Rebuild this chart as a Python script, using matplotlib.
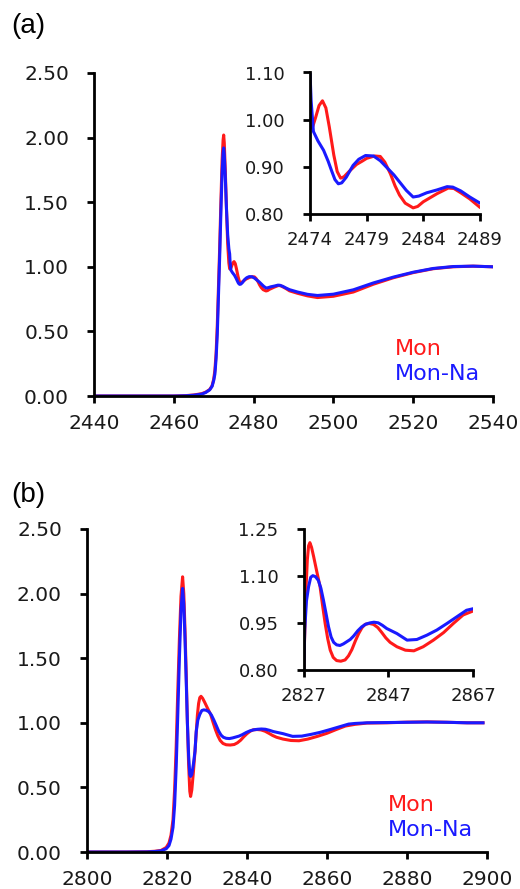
import matplotlib
matplotlib.use("Agg")
import matplotlib.pyplot as plt
from matplotlib.ticker import FormatStrFormatter

# panel (a)
e_a_mon = [2440, 2450, 2460, 2463, 2465, 2467, 2468, 2469, 2469.6, 2470.0, 2470.3,
           2470.6, 2470.9, 2471.2, 2471.5, 2471.8, 2472.1, 2472.35, 2472.5, 2472.65,
           2472.9, 2473.2, 2473.5, 2473.8, 2474.0, 2474.2, 2474.5, 2474.8, 2475.1,
           2475.4, 2475.7, 2476.1, 2476.4, 2476.7, 2477.0, 2477.4, 2478.1, 2478.6,
           2479.0, 2479.7, 2480.2, 2480.6, 2481.1, 2481.5, 2481.9, 2482.4, 2483.1,
           2483.5, 2484.0, 2485.2, 2486.2, 2486.7, 2487.3, 2488.1, 2489.0, 2491,
           2493.5, 2496, 2500, 2505, 2510, 2515, 2520, 2525, 2530, 2535, 2540]
mu_a_mon = [0.0, 0.0, 0.0, 0.003, 0.008, 0.018, 0.03, 0.05, 0.08, 0.13, 0.2,
            0.33, 0.55, 0.85, 1.15, 1.5, 1.82, 1.98, 2.02, 1.96,
            1.75, 1.45, 1.18, 1.03, 0.985, 0.982, 1.005, 1.03, 1.04,
            1.025, 0.985, 0.925, 0.89, 0.876, 0.879, 0.889, 0.905, 0.912,
            0.918, 0.923, 0.922, 0.91, 0.885, 0.86, 0.84, 0.823, 0.813,
            0.816, 0.826, 0.843, 0.855, 0.854, 0.845, 0.832, 0.814, 0.795,
            0.775, 0.762, 0.772, 0.805, 0.865, 0.915, 0.955, 0.985, 1.0, 1.005, 1.0]

e_a_na = [2440, 2450, 2460, 2463, 2465, 2467, 2468, 2469, 2469.6, 2470.0, 2470.3,
          2470.6, 2470.9, 2471.2, 2471.5, 2471.8, 2472.1, 2472.35, 2472.5, 2472.65,
          2472.9, 2473.2, 2473.5, 2473.8, 2474.0, 2474.1, 2474.3, 2474.7, 2475.2,
          2475.6, 2475.9, 2476.2, 2476.5, 2476.8, 2477.2, 2477.8, 2478.3, 2478.9,
          2479.6, 2480.2, 2480.8, 2481.4, 2481.9, 2482.5, 2483.1, 2483.6, 2484.3,
          2485.2, 2486.1, 2486.6, 2487.3, 2488.1, 2489.0, 2491, 2493.5, 2496,
          2500, 2505, 2510, 2515, 2520, 2525, 2530, 2535, 2540]
mu_a_na = [0.0, 0.0, 0.0, 0.002, 0.006, 0.015, 0.027, 0.048, 0.075, 0.12, 0.17,
           0.29, 0.48, 0.78, 1.08, 1.42, 1.72, 1.88, 1.92, 1.87,
           1.7, 1.45, 1.25, 1.14, 1.10, 1.04, 0.975, 0.955, 0.935,
           0.912, 0.892, 0.873, 0.864, 0.866, 0.878, 0.903, 0.916, 0.924,
           0.923, 0.913, 0.898, 0.883, 0.868, 0.85, 0.836, 0.838, 0.845,
           0.851, 0.858, 0.857, 0.849, 0.836, 0.823, 0.805, 0.787, 0.778,
           0.788, 0.822, 0.875, 0.92, 0.958, 0.987, 1.002, 1.005, 1.0]

# panel (b)
e_b_mon = [2800, 2810, 2815, 2817, 2818.5, 2819.8, 2820.5, 2821.0, 2821.5, 2821.9,
           2822.3, 2822.7, 2823.1, 2823.5, 2823.9, 2824.2, 2824.5, 2824.8, 2825.1,
           2825.4, 2825.7, 2825.9, 2826.2, 2826.6, 2827.0, 2827.3, 2827.6, 2827.9,
           2828.2, 2828.5, 2828.9, 2829.4, 2830.1, 2830.9, 2831.5, 2832.1, 2832.7,
           2833.3, 2834.0, 2834.8, 2835.8, 2836.8, 2837.6, 2838.4, 2839.2, 2840.0,
           2840.8, 2841.5, 2842.5, 2843.5, 2844.5, 2845.4, 2846.4, 2847.4, 2849.0,
           2851.0, 2853.0, 2855.2, 2857.6, 2860.0, 2862.3, 2864.6, 2867.0, 2870,
           2875, 2880, 2885, 2890, 2895, 2899]
mu_b_mon = [0.0, 0.0, 0.002, 0.006, 0.012, 0.035, 0.07, 0.13, 0.25, 0.48,
            0.82, 1.25, 1.65, 1.98, 2.13, 2.0, 1.72, 1.38, 1.0,
            0.68, 0.47, 0.43, 0.48, 0.62, 0.78, 0.92, 1.06, 1.15,
            1.195, 1.205, 1.19, 1.16, 1.115, 1.065, 1.005, 0.948, 0.9,
            0.863, 0.84, 0.83, 0.828, 0.832, 0.845, 0.865, 0.892, 0.916,
            0.935, 0.945, 0.948, 0.945, 0.935, 0.92, 0.902, 0.888, 0.874,
            0.863, 0.861, 0.874, 0.895, 0.919, 0.948, 0.975, 0.988, 0.998,
            1.0, 1.005, 1.007, 1.004, 1.0, 1.0]

e_b_na = [2800, 2810, 2815, 2817, 2818.5, 2819.8, 2820.5, 2821.0, 2821.5, 2821.9,
          2822.3, 2822.7, 2823.1, 2823.5, 2823.9, 2824.2, 2824.5, 2824.8, 2825.1,
          2825.4, 2825.7, 2825.9, 2826.2, 2826.6, 2827.0, 2827.3, 2827.7, 2828.2,
          2828.7, 2829.2, 2829.8, 2830.5, 2831.1, 2831.7, 2832.3, 2832.9, 2833.5,
          2834.1, 2834.8, 2835.6, 2836.4, 2837.2, 2838.0, 2838.8, 2839.8, 2840.7,
          2841.7, 2842.7, 2843.6, 2844.6, 2845.6, 2846.6, 2849.0, 2851.4, 2853.7,
          2856.1, 2858.4, 2860.8, 2863.1, 2865.4, 2867.0, 2870, 2875, 2880,
          2885, 2890, 2895, 2899]
mu_b_na = [0.0, 0.0, 0.001, 0.004, 0.009, 0.025, 0.05, 0.1, 0.19, 0.36,
           0.66, 1.07, 1.5, 1.87, 2.04, 1.92, 1.65, 1.33, 1.0,
           0.75, 0.6, 0.585, 0.6, 0.68, 0.78, 0.93, 1.02, 1.065,
           1.095, 1.10, 1.097, 1.085, 1.06, 1.022, 0.98, 0.937, 0.905,
           0.888, 0.88, 0.878, 0.883, 0.89, 0.897, 0.908, 0.925, 0.937,
           0.946, 0.95, 0.952, 0.95, 0.942, 0.932, 0.916, 0.895, 0.897,
           0.911, 0.927, 0.948, 0.969, 0.99, 0.995, 1.0, 1.002, 1.004,
           1.006, 1.004, 1.0, 1.0]

main_yticks = [0, 0.5, 1.0, 1.5, 2.0, 2.5]
a_xticks = [2440, 2460, 2480, 2500, 2520, 2540]
b_xticks = [2800, 2820, 2840, 2860, 2880, 2900]
a_in_xticks = [2474, 2479, 2484, 2489]
a_in_yticks = [0.80, 0.90, 1.00, 1.10]
b_in_xticks = [2827, 2847, 2867]
b_in_yticks = [0.80, 0.95, 1.10, 1.25]

RED = "#ff1a1a"
BLUE = "#1a1aff"
W, H = 520, 889


def box(l, t, r, b):
    return [l / W, 1 - b / H, (r - l) / W, (b - t) / H]


def style(ax, fs, ypad, xpad):
    for s in ["top", "right"]:
        ax.spines[s].set_visible(False)
    for s in ["left", "bottom"]:
        ax.spines[s].set_linewidth(2)
    ax.tick_params(direction="out", length=5, width=2, labelsize=fs,
                   color="black", labelcolor="#1a1a1a")
    ax.tick_params(axis="y", pad=ypad)
    ax.tick_params(axis="x", pad=xpad)
    ax.yaxis.set_major_formatter(FormatStrFormatter("%.2f"))


def panel(rect, em, mm, en, mn, xlim, ylim, xt, yt, fs, ypad, xpad):
    ax = fig.add_axes(rect)
    ax.plot(em, mm, color=RED, lw=2.2)
    ax.plot(en, mn, color=BLUE, lw=2.2)
    ax.set_xlim(*xlim)
    ax.set_ylim(*ylim)
    ax.set_xticks(xt)
    ax.set_yticks(yt)
    style(ax, fs, ypad, xpad)
    return ax


fig = plt.figure(figsize=(W / 100, H / 100), dpi=100)

panel(box(94, 73, 493, 396), e_a_mon, mu_a_mon, e_a_na, mu_a_na,
      (2440, 2540), (0, 2.5), a_xticks, main_yticks, 14.5, 13, 8)
panel(box(310, 72.5, 480, 214), e_a_mon, mu_a_mon, e_a_na, mu_a_na,
      (2474, 2489), (0.80, 1.10), a_in_xticks, a_in_yticks, 13, 13, 7)
panel(box(87, 529, 487, 852), e_b_mon, mu_b_mon, e_b_na, mu_b_na,
      (2800, 2900), (0, 2.5), b_xticks, main_yticks, 14.5, 13, 8)
panel(box(303.5, 528.5, 473.3, 670), e_b_mon, mu_b_mon, e_b_na, mu_b_na,
      (2827, 2867), (0.80, 1.25), b_in_xticks, b_in_yticks, 13, 13, 7)

# legends as coloured text
for (x, y1, y2) in [(395, 349, 374), (388, 805, 830)]:
    fig.text(x / W, 1 - y1 / H, "Mon", color=RED, fontsize=16, va="center")
    fig.text(x / W, 1 - y2 / H, "Mon-Na", color=BLUE, fontsize=16, va="center")

fig.text(11 / W, 1 - 26 / H, "(a)", fontsize=20, family="Liberation Sans", va="center")
fig.text(11 / W, 1 - 495 / H, "(b)", fontsize=20, family="Liberation Sans", va="center")

fig.savefig("out.png", dpi=100)
